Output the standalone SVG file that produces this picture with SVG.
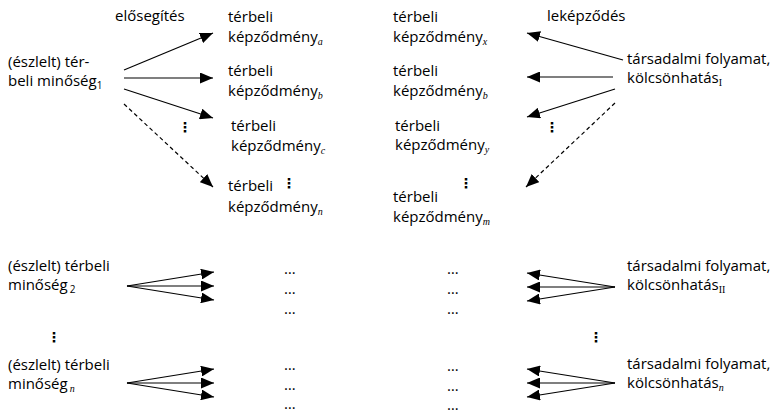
<svg xmlns="http://www.w3.org/2000/svg" width="778" height="414" viewBox="0 0 778 414">
<style>
text{font-family:"Open Sans","Noto Sans",sans-serif;font-size:15px;fill:#000}
.sub{font-family:"Liberation Serif",serif;font-style:italic;font-size:10px}
.subr{font-family:"Liberation Serif",serif;font-size:10px}
.subd{font-size:10px}
.vd{font-family:"DejaVu Sans",sans-serif;font-size:14px;font-weight:bold}
line{stroke:#000;stroke-width:1.2;fill:none}
.dash{stroke-dasharray:4 3}
</style>
<defs>
<marker id="ah" markerUnits="userSpaceOnUse" markerWidth="13" markerHeight="11" refX="13" refY="5.5" orient="auto">
<path d="M0,0 L13,5.5 L0,11 Z" fill="#000"/>
</marker>
</defs>
<g id="labels">
<text x="115" y="21">elősegítés</text>
<text x="547" y="21">leképződés</text>
</g>
<g id="q1"><text x="8" y="67">(észlelt) tér-</text><text x="8" y="86">beli minőség<tspan class="subd" dy="3">1</tspan></text></g>
<g id="ka"><text x="228" y="22">térbeli</text><text x="228" y="42">képződmény<tspan class="sub" dy="3">a</tspan></text></g>
<g id="kb"><text x="228" y="76">térbeli</text><text x="228" y="96">képződmény<tspan class="sub" dy="3">b</tspan></text></g>
<g id="kc"><text x="231" y="131">térbeli</text><text x="231" y="151">képződmény<tspan class="sub" dy="3">c</tspan></text></g>
<g id="kn"><text x="228" y="191">térbeli</text><text x="228" y="212">képződmény<tspan class="sub" dy="3">n</tspan></text></g>
<g id="kx"><text x="393" y="22">térbeli</text><text x="393" y="42">képződmény<tspan class="sub" dy="3">x</tspan></text></g>
<g id="kb2"><text x="393" y="76">térbeli</text><text x="393" y="96">képződmény<tspan class="sub" dy="3">b</tspan></text></g>
<g id="ky"><text x="395" y="131">térbeli</text><text x="395" y="150">képződmény<tspan class="sub" dy="3">y</tspan></text></g>
<g id="km"><text x="393" y="202">térbeli</text><text x="393" y="222">képződmény<tspan class="sub" dy="3">m</tspan></text></g>
<g id="t1"><text x="627" y="64">társadalmi folyamat,</text><text x="627" y="83">kölcsönhatás<tspan class="subr" dy="3">I</tspan></text></g>
<g id="q2"><text x="8" y="271">(észlelt) térbeli</text><text x="8" y="290">minőség<tspan class="subd" dy="3" dx="2">2</tspan></text></g>
<g id="qn"><text x="8" y="370">(észlelt) térbeli</text><text x="8" y="389">minőség<tspan class="sub" dy="3" dx="2">n</tspan></text></g>
<g id="t2"><text x="627" y="271">társadalmi folyamat,</text><text x="627" y="290">kölcsönhatás<tspan class="subr" dy="3">II</tspan></text></g>
<g id="tn"><text x="627" y="369">társadalmi folyamat,</text><text x="627" y="388">kölcsönhatás<tspan class="sub" dy="3">n</tspan></text></g>
<g id="dots">
<text class="vd" x="178" y="132">⋮</text>
<text class="vd" x="282" y="188">⋮</text>
<text class="vd" x="459" y="188">⋮</text>
<text class="vd" x="545" y="132">⋮</text>
<text class="vd" x="47" y="342">⋮</text>
<text class="vd" x="589" y="342">⋮</text>
<text x="284" y="274">…</text><text x="284" y="294">…</text><text x="284" y="314">…</text>
<text x="284" y="370">…</text><text x="284" y="390">…</text><text x="284" y="409">…</text>
<text x="447" y="274">…</text><text x="447" y="294">…</text><text x="447" y="314">…</text>
<text x="447" y="371">…</text><text x="447" y="391">…</text><text x="447" y="410">…</text>
</g>
<g id="connectors">
<line x1="124" y1="70" x2="213" y2="33" marker-end="url(#ah)"/>
<line x1="124" y1="78" x2="213" y2="78" marker-end="url(#ah)"/>
<line x1="124" y1="89" x2="213" y2="118" marker-end="url(#ah)"/>
<line class="dash" x1="124" y1="104" x2="213" y2="187" marker-end="url(#ah)"/>
<line x1="623" y1="60" x2="527" y2="33" marker-end="url(#ah)"/>
<line x1="613" y1="77" x2="527" y2="77" marker-end="url(#ah)"/>
<line x1="615" y1="89" x2="527" y2="117" marker-end="url(#ah)"/>
<line class="dash" x1="615" y1="103" x2="526" y2="187" marker-end="url(#ah)"/>
<line x1="127" y1="286" x2="214" y2="272" marker-end="url(#ah)"/>
<line x1="127" y1="286" x2="214" y2="286" marker-end="url(#ah)"/>
<line x1="127" y1="286" x2="214" y2="300" marker-end="url(#ah)"/>
<line x1="127" y1="383" x2="214" y2="369" marker-end="url(#ah)"/>
<line x1="127" y1="383" x2="214" y2="383" marker-end="url(#ah)"/>
<line x1="127" y1="383" x2="214" y2="397" marker-end="url(#ah)"/>
<line x1="615" y1="287" x2="527" y2="273" marker-end="url(#ah)"/>
<line x1="615" y1="287" x2="527" y2="287" marker-end="url(#ah)"/>
<line x1="615" y1="287" x2="527" y2="301" marker-end="url(#ah)"/>
<line x1="615" y1="383" x2="527" y2="369" marker-end="url(#ah)"/>
<line x1="615" y1="383" x2="527" y2="383" marker-end="url(#ah)"/>
<line x1="615" y1="383" x2="527" y2="397" marker-end="url(#ah)"/>
</g>
</svg>
